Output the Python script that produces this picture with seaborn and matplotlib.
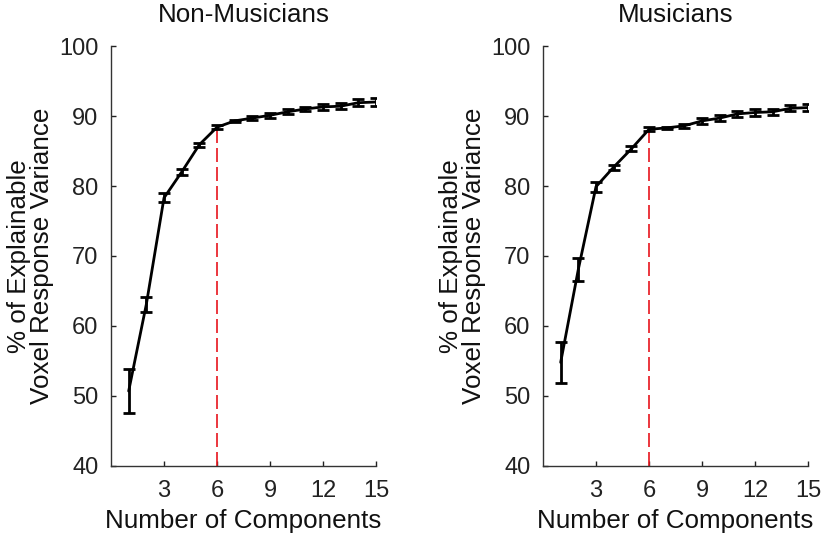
import numpy as np
import pandas as pd
import matplotlib
matplotlib.use("Agg")
import matplotlib.pyplot as plt
import seaborn as sns

components = list(range(1, 16))
nonmus_mean = [50.7, 63.1, 78.3, 82.0, 85.9, 88.4, 89.3, 89.7, 90.1, 90.6, 91.0, 91.3, 91.4, 91.9, 92.0]
nonmus_err = [3.1, 1.1, 0.65, 0.4, 0.3, 0.3, 0.2, 0.25, 0.35, 0.35, 0.35, 0.4, 0.4, 0.5, 0.6]
mus_mean = [54.8, 68.1, 79.9, 82.7, 85.3, 88.1, 88.3, 88.6, 89.3, 89.7, 90.3, 90.5, 90.6, 91.1, 91.2]
mus_err = [2.9, 1.65, 0.7, 0.35, 0.35, 0.3, 0.2, 0.25, 0.4, 0.4, 0.45, 0.45, 0.45, 0.45, 0.5]
titles = ["Non-Musicians", "Musicians"]
xticks = [3, 6, 9, 12, 15]
yticks = [40, 50, 60, 70, 80, 90, 100]
cutoff = 6

sns.set_style("white")
plt.rcParams['font.family'] = ['Liberation Sans', 'DejaVu Sans']

fig = plt.figure(figsize=(8.22, 5.38), dpi=100)
positions = [[111/822, 72/538, 265/822, 420/538], [543/822, 72/538, 265/822, 420/538]]
series = [(nonmus_mean, nonmus_err), (mus_mean, mus_err)]

for pos, title, (m, e) in zip(positions, titles, series):
    ax = fig.add_axes(pos)
    df = pd.DataFrame({"k": components, "v": m})
    ax.plot([cutoff, cutoff], [40, m[components.index(cutoff)]], color="#e8141c",
            lw=1.2, dashes=(8.4, 3), zorder=1)
    sns.lineplot(data=df, x="k", y="v", ax=ax, color="black", lw=2, zorder=3)
    ax.errorbar(components, m, yerr=e, fmt="none", ecolor="black", elinewidth=2,
                capsize=4, capthick=2, zorder=4)
    ax.set_xlim(0, 15)
    ax.set_ylim(40, 100)
    ax.set_xticks(xticks)
    ax.set_yticks(yticks)
    ax.tick_params(bottom=True, left=True, direction="in", length=3.5, width=1,
                   labelsize=17, colors="#222222", pad=9)
    ax.tick_params(axis="x", pad=10)
    for s in ["top", "right"]:
        ax.spines[s].set_visible(False)
    for s in ["left", "bottom"]:
        ax.spines[s].set_color("#333333")
        ax.spines[s].set_linewidth(1)
    ax.set_title(title, fontsize=18.7, pad=17, color="#111111")
    ax.set_xlabel("Number of Components", fontsize=18.7, labelpad=5, color="#111111")
    ax.set_ylabel("% of Explainable\nVoxel Response Variance", fontsize=18.7,
                  labelpad=4, color="#111111", linespacing=0.95)

fig.savefig("out.png", dpi=100)
